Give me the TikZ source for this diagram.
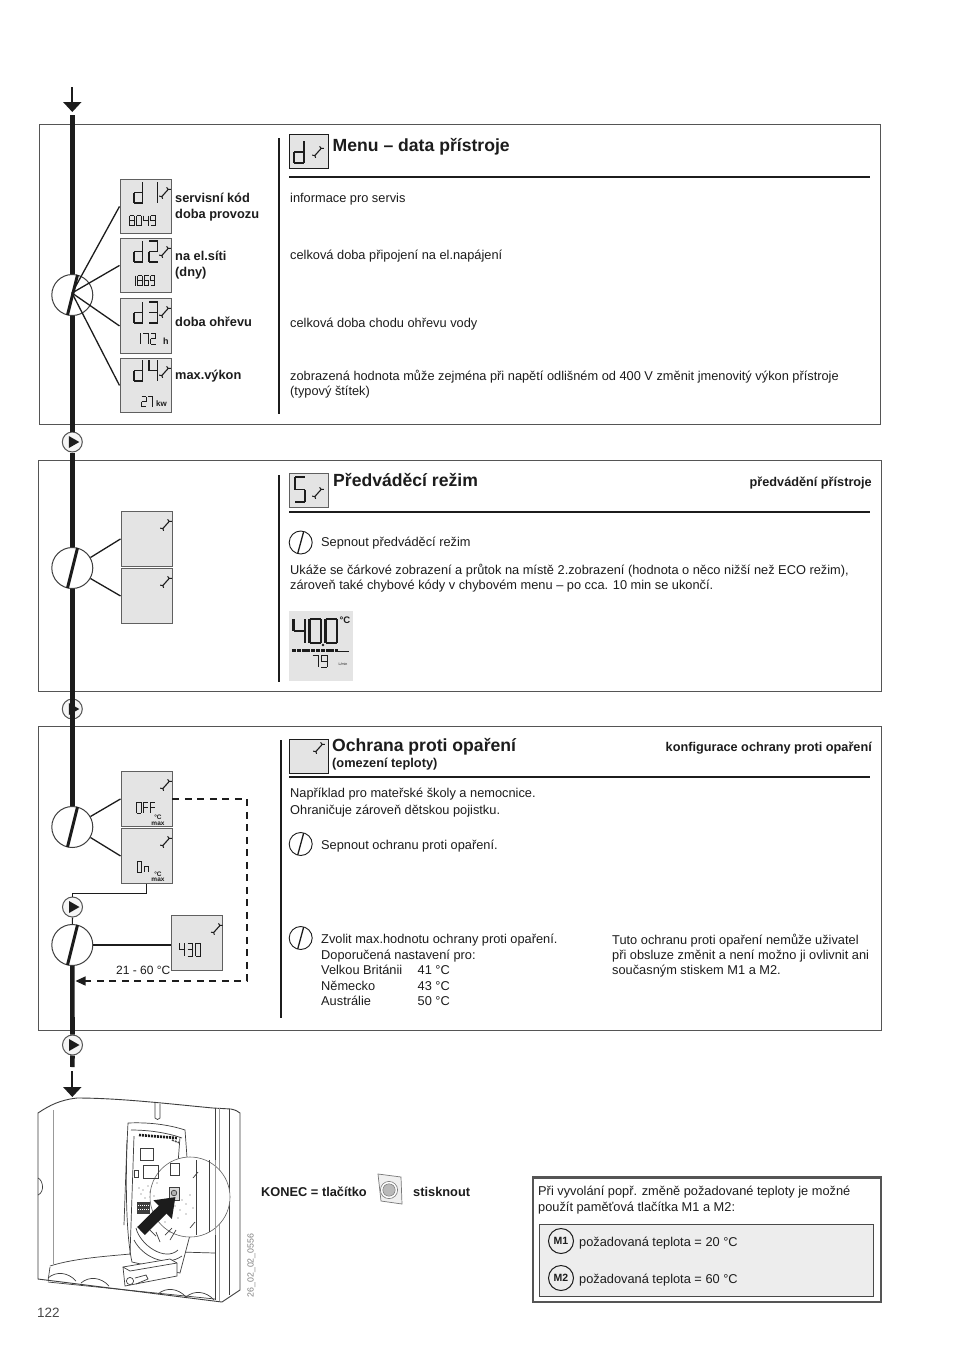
\documentclass[tikz,border=0pt]{standalone}
\usepackage{fontspec}
\setmainfont{Liberation Sans}
\usetikzlibrary{arrows.meta,calc}
\definecolor{lcdfill}{HTML}{E4E4E4}
\definecolor{ink}{HTML}{1C1C1C}
\tikzset{
  seg/.style={line width=1.1pt,ink,line cap=butt},
  smallseg/.style={seg,line width=.85pt},
  thickflow/.style={line width=4.6pt,ink},
  thinflow/.style={line width=2.2pt,ink},
  panel/.style={draw=ink!75,line width=1pt},
  sep/.style={line width=1.5pt,ink},
  rulehead/.style={line width=1.3pt,ink},
  lcd/.style={draw=ink!70,fill=lcdfill,line width=.9pt,anchor=north west,inner sep=0pt},
  iconbox/.style={draw=ink,fill=lcdfill,line width=1.1pt,anchor=north west,inner sep=0pt},
  wheel/.style={circle,draw=ink!85,fill=white,line width=1pt,minimum size=41pt,inner sep=0pt},
  smallwheel/.style={circle,draw=ink,fill=white,line width=.9pt,minimum size=23pt,inner sep=0pt},
  playwheel/.style={circle,draw=ink!75,fill=gray!8,line width=1pt,minimum size=20pt,inner sep=0pt},
  link/.style={line width=1.3pt,ink},
  dashlink/.style={line width=1.3pt,ink,dash pattern=on 7pt off 5.5pt},
  body/.style={anchor=base west,inner sep=0pt,font=\fontsize{12.8}{15}\selectfont,text=ink},
  bodybold/.style={body,font=\fontsize{12.8}{15}\selectfont\bfseries},
  boldend/.style={anchor=base east,inner sep=0pt,font=\fontsize{12.7}{15}\selectfont\bfseries,text=ink},
  headline/.style={anchor=base west,inner sep=0pt,font=\fontsize{17.6}{20}\selectfont\bfseries,text=ink},
  tiny/.style={inner sep=0pt,font=\fontsize{6.5}{7}\selectfont\bfseries,text=ink},
  dev/.style={line width=.7pt,ink!85},
  devfaint/.style={line width=.5pt,ink!45},
}
\def\SA{0/0/1/0}\def\SB{1/0/1/.5}\def\SC{1/.5/1/1}\def\SD{0/1/1/1}\def\SE{0/.5/0/1}\def\SF{0/0/0/.5}\def\SG{0/.5/1/.5}
\newcommand\dgdef[2]{\expandafter\edef\csname DG#1\endcsname{#2}}
\dgdef{0}{\SA,\SB,\SC,\SD,\SE,\SF}
\dgdef{1}{\SB,\SC}
\dgdef{2}{\SA,\SB,\SG,\SE,\SD}
\dgdef{3}{\SA,\SB,\SG,\SC,\SD}
\dgdef{4}{\SF,\SG,\SB,\SC}
\dgdef{5}{\SA,\SF,\SG,\SC,\SD}
\dgdef{6}{\SA,\SF,\SG,\SE,\SC,\SD}
\dgdef{7}{\SA,\SB,\SC}
\dgdef{8}{\SA,\SB,\SC,\SD,\SE,\SF,\SG}
\dgdef{9}{\SA,\SB,\SG,\SF,\SC,\SD}
\dgdef{d}{\SB,\SC,\SD,\SE,\SG}
\dgdef{F}{\SA,\SF,\SG,\SE}
\dgdef{n}{\SE,\SG,\SC}
% x y w h gap digits
\newcommand\segnum[6]{%
  \foreach \ch [count=\ii] in {#6}{%
    \pgfmathsetmacro\xx{#1+(\ii-1)*(#3+#5)}%
    \edef\lst{\csname DG\ch\endcsname}%
    \foreach \pa/\pb/\pc/\pd in \lst {%
      \draw[seg] ({\xx+\pa*#3},{#2+\pb*#4}) -- ({\xx+\pc*#3},{#2+\pd*#4});
    }%
  }%
}
\newcommand\wrench[2]{%
  \draw[line width=1.1pt,ink] (#1-3.4,#2+3.8) -- (#1+3.4,#2-3.8);
  \draw[line width=1pt,ink] (#1+1.6,#2-5.6) -- (#1+3.2,#2-3.6) -- (#1+5.8,#2-3.6);
  \draw[line width=1pt,ink] (#1-5.8,#2+3.2) -- (#1-3.2,#2+3.4) -- (#1-2.4,#2+5.8);
}
% name x1 y1 x2 y2
\newcommand\display[5]{%
  \pgfmathsetmacro\dw{#4-#2}\pgfmathsetmacro\dh{#5-#3}%
  \node[lcd,minimum width=\dw pt,minimum height=\dh pt] (#1) at (#2,#3) {};
  \wrench{#4-5.5}{#3+14}
}
\newcommand\playmark[3]{%
  \node[playwheel] (#1) at (#2,#3) {};
  \fill[ink] (#2-3.5,#3-6) -- (#2+7,#3) -- (#2-3.5,#3+6) -- cycle;
}
\newcommand\dial[3]{%
  \node[wheel] (#1) at (#2,#3) {};
  \draw[line width=3pt,ink] (#2+5.2,#3-20) -- (#2-4.8,#3+20);
}
\newcommand\smalldial[3]{%
  \node[smallwheel] (#1) at (#2,#3) {};
  \draw[line width=1.3pt,ink] (#2+3,#3-11) -- (#2-3,#3+11);
}
\begin{document}
\begin{tikzpicture}[x=1pt,y=-1pt]
\useasboundingbox (0,0) rectangle (954,1350);
\fill[white] (0,0) rectangle (954,1350);

% frames
\draw[panel] (39,124) rectangle (880,424);
\draw[panel] (38,460) rectangle (881,691);
\draw[panel] (38,726) rectangle (881,1030);

% flow nodes
\coordinate (flowtop) at (72.3,87);
\coordinate (flowtip) at (72.3,112);
\coordinate (flowstart) at (72.3,115);
\playmark{p1}{72.3}{442}
\playmark{p2}{72.3}{709}
\playmark{p3}{72.5}{907}
\playmark{p4}{72.5}{1045}
\coordinate (flowgap) at (72.3,1067);
\coordinate (flowbot) at (72.3,1071);
\coordinate (flowbottip) at (72.3,1097);
\draw[thinflow,-{Triangle[width=18pt,length=10pt]}] (flowtop) -- (flowtip);

\node[wheel,fill=none,draw=none] (c1) at (72.3,295) {};
\node[wheel,fill=none,draw=none] (c2) at (72.3,568) {};
\node[wheel,fill=none,draw=none] (c3) at (72.3,827) {};
\node[wheel,fill=none,draw=none] (c4) at (72.3,945) {};
\draw[thickflow] (flowstart) -- (c1.north);
\draw[thickflow] (c1.south) -- (p1.north);
\draw[thickflow] (p1.south) -- (c2.north);
\draw[thickflow] (c2.south) -- (c3.north);
\draw[thickflow] (c4.south) -- (p4.north);
\draw[thickflow] (p4.south) -- (flowgap);
\draw[thinflow,-{Triangle[width=18pt,length=10pt]}] (flowbot) -- (flowbottip);
\dial{c1}{72.3}{295}
\dial{c2}{72.3}{568}
\dial{c3}{72.3}{827}
\dial{c4}{72.3}{945}

% ---------- panel 1 displays
\display{d1}{119.5}{179}{170.5}{233}
\display{d2}{119.5}{238}{170.5}{292}
\display{d3}{119.5}{298}{170.5}{353}
\display{d4}{119.5}{358}{170.5}{412}
\segnum{134}{182}{8.5}{21}{6.5}{d,1}
\segnum{134}{241}{8.5}{21}{6.5}{d,2}
\segnum{134}{302}{8.5}{21}{6.5}{d,3}
\segnum{134}{360}{8.5}{21}{6.5}{d,4}
\begin{scope}[seg/.append style={line width=.85pt}]
\segnum{129.5}{215.5}{4.8}{10}{2.3}{8,0,4,9}
\segnum{131.5}{275.5}{4.2}{10}{2.2}{1,8,6,9}
\segnum{136}{333}{4.8}{11}{2.6}{1,7,2}
\segnum{141.5}{396.5}{4.6}{10}{1.8}{2,7}
\end{scope}
\node[tiny,font=\fontsize{9}{10}\selectfont\bfseries,anchor=base west] (h1) at (163,344) {h};
\node[tiny,font=\fontsize{8}{10}\selectfont\bfseries,anchor=base west] (kw1) at (156,406) {kw};
\coordinate (hub1) at (72,293);
\draw[link] (hub1) -- (d1.west);
\draw[link] (hub1) -- (d2.west);
\draw[link] (hub1) -- (d3.west);
\draw[link] (hub1) -- (d4.west);

\node[bodybold] (l1) at (175,202) {servisní kód};
\node[bodybold] (l2) at (175,218) {doba provozu};
\node[bodybold] (l3) at (175,260) {na el.síti};
\node[bodybold] (l4) at (175,276) {(dny)};
\node[bodybold] (l5) at (175,326) {doba ohřevu};
\node[bodybold] (l6) at (175,379) {max.výkon};

\draw[sep] (279,138) -- (279,414);
\node[iconbox,minimum width=39pt,minimum height=34pt] (i1) at (289,134) {};
\begin{scope}[seg/.append style={line width=1.6pt}]
\segnum{294}{141}{10}{22}{0}{d}
\end{scope}
\wrench{318}{152}
\node[headline] (h1t) at (332.5,151) {Menu – data přístroje};
\draw[rulehead] (289,177) -- (870,177);
\node[body] (b1) at (290,202) {informace pro servis};
\node[body] (b2) at (290,259) {celková doba připojení na el.napájení};
\node[body] (b3) at (290,327) {celková doba chodu ohřevu vody};
\node[body] (b4) at (290,380) {zobrazená hodnota může zejména při napětí odlišném od 400 V změnit jmenovitý výkon přístroje};
\node[body] (b5) at (290,395) {(typový štítek)};

% ---------- panel 2
\display{d5}{120.5}{511}{171.5}{566}
\display{d6}{120.5}{568}{171.5}{623}
\draw[link] (c2.30) -- (d5.west);
\draw[link] (c2.-30) -- (d6.west);
\draw[sep] (279,475) -- (279,682);
\node[iconbox,minimum width=39pt,minimum height=34pt,draw=ink!70] (i2) at (289,473) {};
\begin{scope}[seg/.append style={line width=1.6pt}]
\segnum{295}{477}{10}{25}{0}{5}
\end{scope}
\wrench{318}{493}
\node[headline] (h2t) at (333,486) {Předváděcí režim};
\node[boldend] (h2r) at (872,486) {předvádění přístroje};
\draw[rulehead] (289,512) -- (870,512);
\smalldial{s1}{300.7}{542.5}
\node[body] (b6) at (321,546) {Sepnout předváděcí režim};
\node[body] (b7) at (290,574) {Ukáže se čárkové zobrazení a průtok na místě 2.zobrazení (hodnota o něco nižší než ECO režim),};
\node[body] (b8) at (290,589) {zároveň také chybové kódy v chybovém menu – po cca. 10 min se ukončí.};
\fill[lcdfill] (289,611) rectangle (353,681);
\begin{scope}[seg/.append style={line width=2.2pt}]
\segnum{293.5}{619}{11.5}{24}{4.5}{4,0,0}
\end{scope}
\fill[ink] (323,645) circle (1.3);
\node[tiny,font=\fontsize{9.5}{10}\selectfont\bfseries] (lcdunit) at (345,620) {°C};
\draw[line width=2.4pt,ink,dash pattern=on 4pt off .8pt] (292,650.5) -- (338,650.5);
\draw[line width=.6pt,ink] (338,651) -- (349,651);
\begin{scope}[seg/.append style={line width=1pt}]
\segnum{312.5}{655}{6}{12}{2.5}{7,9}
\end{scope}
\node[tiny,font=\fontsize{3.6}{4}\selectfont] (lcdflow) at (343,664) {L/min};

% ---------- panel 3
\display{d7}{120.5}{771}{171.5}{826}
\display{d8}{120.5}{828}{171.5}{883}
\display{d9}{171.3}{915}{222.3}{970}
\begin{scope}[seg/.append style={line width=.95pt}]
\segnum{136.5}{802}{4.6}{11}{2.4}{0,F,F}
\segnum{137}{861}{4.6}{11}{2.4}{0,n}
\segnum{179.5}{943}{5.4}{13}{2.6}{4,3,0}
\end{scope}
\node[tiny] (u1) at (158,817.5) {°C};
\node[tiny] (u2) at (158,823.5) {max};
\node[tiny] (u3) at (158,874.5) {°C};
\node[tiny] (u4) at (158,880) {max};
\draw[link] (c3.30) -- (d7.west);
\draw[link] (c3.-30) -- (d8.west);
\draw[link,line width=1.1pt] (d8.south) -- ++(0,10) -| (p3.north);
\draw[link,line width=1.1pt] (p3.south) -- (c4.north);
\draw[link,line width=1.6pt] (c4.east) -- (c4.east -| d9.west);
\coordinate (dashtarget) at (75.5,981);
\draw[dashlink,-{Triangle[width=9pt,length=10pt]}] (d7.east) -| (247,981) -- (dashtarget);
\node[anchor=base east,inner sep=0pt,font=\fontsize{12}{14}\selectfont,text=ink] (range) at (170.5,974) {21 - 60 °C};

\draw[sep] (281,740) -- (281,1018);
\node[iconbox,minimum width=39pt,minimum height=34pt] (i3) at (289,739) {};
\wrench{319}{748}
\node[headline] (h3t) at (332,751) {Ochrana proti opaření};
\node[bodybold] (h3s) at (332,767) {(omezení teploty)};
\node[boldend] (h3r) at (872,751) {konfigurace ochrany proti opaření};
\draw[rulehead] (289,777) -- (870,777);
\node[body] (b9) at (290,797) {Například pro mateřské školy a nemocnice.};
\node[body] (b10) at (290,814) {Ohraničuje zároveň dětskou pojistku.};
\smalldial{s2}{300.7}{844}
\node[body] (b11) at (321,849) {Sepnout ochranu proti opaření.};
\smalldial{s3}{300.7}{938}
\node[body] (b12) at (321,943) {Zvolit max.hodnotu ochrany proti opaření.};
\node[body] (b13) at (321,959) {Doporučená nastavení pro:};
\node[body] (b14) at (321,974) {Velkou Británii};
\node[body] (b15) at (417.5,974) {41 °C};
\node[body] (b16) at (321,990) {Německo};
\node[body] (b17) at (417.5,990) {43 °C};
\node[body] (b18) at (321,1005) {Austrálie};
\node[body] (b19) at (417.5,1005) {50 °C};
\node[body] (b20) at (612,944) {Tuto ochranu proti opaření nemůže uživatel};
\node[body] (b21) at (612,959) {při obsluze změnit a není možno ji ovlivnit ani};
\node[body] (b22) at (612,974) {současným stiskem M1 a M2.};

% ---------- device drawing
\draw[dev,line width=.9pt] (38,1113) .. controls (50,1105) and (60,1100) .. (77,1098) .. controls (120,1098) and (170,1104) .. (213,1108) -- (231,1109) .. controls (235,1110) and (238,1111) .. (240,1113) -- (240,1290) -- (222,1302) -- (38,1279) -- cycle;
\draw[devfaint] (53,1110) -- (53,1264);
\draw[dev] (215,1108) -- (215,1300);
\draw[devfaint] (219,1108) -- (219,1301);
\draw[dev] (229,1109) -- (229,1295);
\draw[dev] (155,1103) -- (155,1118) .. controls (156,1120) and (159,1120) .. (160,1118) -- (160,1104);
\draw[dev] (38,1178) .. controls (43,1180) and (45,1192) .. (38,1195);
\draw[dev] (50,1266) .. controls (75,1258) and (110,1256) .. (130,1254);
\draw[dev] (180,1252) -- (215,1253);
\foreach \bx/\by in {62/1279,95/1284,172/1295,200/1298}
  \draw[dev] (\bx-14,\by-1) .. controls (\bx-6,\by-8) and (\bx+6,\by-7) .. (\bx+14,\by+2);
\draw[dev] (50,1267) -- (48,1281);
\draw[dev] (48,1282) -- (215,1299);
\draw[dev,fill=white] (128,1123) .. controls (150,1122) and (170,1125) .. (185,1130) .. controls (188,1170) and (191,1215) .. (190,1235) -- (180,1273) -- (132,1262) .. controls (126,1235) and (125,1180) .. (128,1123);
\draw[dev] (131,1130) .. controls (150,1130) and (168,1133) .. (182,1138);
\draw[dev] (134,1136) -- (130,1255);
\draw[dev] (127,1140) -- (124,1225);
\draw[dev] (180,1137) -- (176,1190);
\node[circle,draw=ink!70,fill=white,line width=.6pt,minimum size=80pt,inner sep=0pt] (zoomc) at (190,1197) {};
\draw[line width=2.6pt,ink,dash pattern=on 2pt off 1pt] (139,1135) -- (177,1138);
\draw[line width=1.6pt,ink!80,dash pattern=on 2pt off 1pt] (172,1140) -- (180,1143);
\draw[dev] (140,1148) rectangle (153,1160);
\draw[dev] (143,1165) rectangle (158,1178);
\draw[dev] (170,1163) rectangle (179,1175);
\draw[dev] (134,1170) rectangle (138,1177);
\draw[dev] (196,1160) -- (196,1235);
\draw[dev] (209,1160) -- (209,1232);
\draw[dev] (193,1178) -- (198,1172) (190,1228) -- (195,1222);
\draw[devfaint] (215,1160) -- (215,1235);
\fill[ink!85] (137,1202) rectangle (150,1214);
\draw[white,line width=.6pt,dash pattern=on 1pt off 1pt] (138,1205) -- (150,1205) (138,1209) -- (150,1209);
\foreach \dx/\dy in {139/1188,143/1190,148/1186,141/1194,150/1192,145/1198,154/1196,157/1183,175/1206,180/1210,186/1204,178/1218,186/1214,190/1195,165/1222,170/1232,182/1200,193/1208}
  \fill[ink!70] (\dx,\dy) circle (.7);
\draw[dev] (136,1228) .. controls (140,1245) and (165,1262) .. (178,1250);
\draw[dev] (134,1240) .. controls (142,1256) and (165,1268) .. (182,1256);
\draw[dev] (150,1230) -- (156,1236) (165,1235) -- (172,1228) (170,1240) -- (176,1230) (156,1232) -- (160,1242);
\draw[dev,fill=gray!30] (169,1187) rectangle (179,1200);
\draw[dev,fill=gray!60] (174,1193) circle (2.8);
\draw[line width=11pt,ink,-{Triangle[width=25pt,length=18pt]}] (141,1231) -- (175.5,1197);
\draw[dev,fill=white] (123,1267) -- (170,1259) -- (177,1263) -- (177,1276) -- (125,1286) -- cycle;
\draw[dev] (123,1267) -- (130,1271) -- (177,1263);
\draw[dev,fill=white] (130,1281) circle (3.6);
\draw[dev] (135,1278) -- (146,1275) -- (148,1279) -- (136,1284);
\node[anchor=center,rotate=90,inner sep=0pt,font=\fontsize{8.8}{11}\selectfont,text=gray] (code) at (251.5,1265.5) {26\_02\_02\_0556};
\node[anchor=base west,inner sep=0pt,font=\fontsize{13.5}{15}\selectfont,text=ink!80] (page) at (37,1317) {122};

% ---------- KONEC line
\node[bodybold] (k1) at (261,1196) {KONEC = tlačítko};
\node[bodybold] (k2) at (413,1196) {stisknout};
\draw[draw=ink!60,fill=gray!12,line width=.7pt] (378,1174) -- (401,1177) -- (402,1204) -- (381,1201) -- cycle;
\draw[draw=ink!60,fill=white,line width=.6pt] (389,1190) circle (8.6);
\draw[draw=ink!60,fill=gray!55,line width=.5pt] (389,1190) circle (6.2);

% ---------- memory box
\draw[draw=ink!75,line width=2.2pt] (533,1177.5) rectangle (881,1302);
\draw[draw=ink!80,fill=gray!14,line width=1pt] (539,1224) rectangle (873,1296);
\node[body] (m1) at (538,1195) {Při vyvolání popř. změně požadované teploty je možné};
\node[body] (m2) at (538,1211) {použít paměťová tlačítka M1 a M2:};
\node[circle,draw=ink,line width=1pt,minimum size=25pt,inner sep=0pt,font=\fontsize{10.5}{11}\selectfont\bfseries,text=ink] (M1) at (561,1241) {M1};
\node[circle,draw=ink,line width=1pt,minimum size=25pt,inner sep=0pt,font=\fontsize{10.5}{11}\selectfont\bfseries,text=ink] (M2) at (561,1278) {M2};
\node[body] (m3) at (579,1246) {požadovaná teplota = 20 °C};
\node[body] (m4) at (579,1283) {požadovaná teplota = 60 °C};
\end{tikzpicture}
\end{document}
